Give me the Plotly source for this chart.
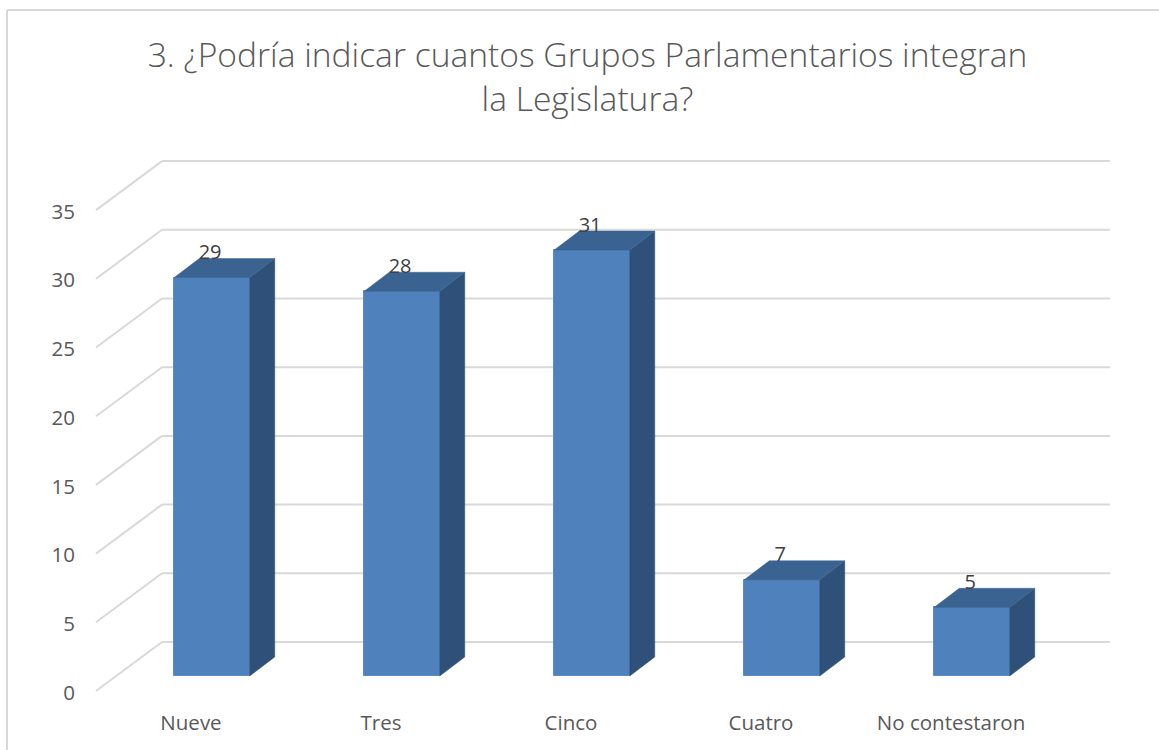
import plotly.graph_objects as go

categories = ["Nueve", "Tres", "Cinco", "Cuatro", "No contestaron"]
values = [29, 28, 31, 7, 5]
y_ticks = [0, 5, 10, 15, 20, 25, 30, 35]
title_text = "3. ¿Podría indicar cuantos Grupos Parlamentarios integran<br>la Legislatura?"

# Page geometry (pixels)
W, H = 1159, 750
ML, MB = 76, 42
PX_X = 190.0      # pixels per category
PX_Y = 13.74      # pixels per value unit
BAR_X0, BAR_Y0 = 212.0, 676.0    # bar axes origin
TICK_X0, TICK_Y0 = 191.0, 692.5  # tick-label axes origin
BAR_W = 75.5 / PX_X
DX, DY = 25 / PX_X, 19 / PX_Y    # bar depth
FONT = "Open Sans"

def xr(x0): return [(ML - x0) / PX_X, (W - x0) / PX_X]
def yr(y0): return [(y0 - (H - MB)) / PX_Y, y0 / PX_Y]

n = list(range(len(categories)))
fig = go.Figure()

# Invisible trace which makes the tick-label axes appear
fig.add_trace(go.Scatter(x=n, y=[0] * len(n), mode="markers", marker=dict(opacity=0),
                         showlegend=False, hoverinfo="skip", xaxis="x", yaxis="y"))

# Front faces
fig.add_trace(go.Bar(x=n, y=values, width=BAR_W, marker=dict(color="#4F81BD", line=dict(color="#5B8BC4", width=1)),
                     showlegend=False, hoverinfo="skip", xaxis="x2", yaxis="y2"))

# Side and top faces
for i, v in zip(n, values):
    l, r = i - BAR_W / 2, i + BAR_W / 2
    fig.add_trace(go.Scatter(x=[r, r + DX, r + DX, r, r], y=[0, DY, v + DY, v, 0], mode="lines",
                             fill="toself", fillcolor="#2F5079", line=dict(color="#2F5079", width=0.5),
                             showlegend=False, hoverinfo="skip", xaxis="x2", yaxis="y2"))
    fig.add_trace(go.Scatter(x=[l, l + DX, r + DX, r, l], y=[v, v + DY, v + DY, v, v], mode="lines",
                             fill="toself", fillcolor="#3B6391", line=dict(color="#3B6391", width=0.5),
                             showlegend=False, hoverinfo="skip", xaxis="x2", yaxis="y2"))

# Data labels
fig.add_trace(go.Scatter(x=[i - 0.01 for i in n], y=[v + 23.5 / PX_Y for v in values], mode="text",
                         text=[str(v) for v in values], textposition="middle center",
                         textfont=dict(family=FONT, size=20, color="#404040"),
                         showlegend=False, hoverinfo="skip", xaxis="x2", yaxis="y2"))

# Gridlines: back wall and floor/side-wall diagonals
GRID = dict(color="#D9D9D9", width=2)
back_x0 = (162 - BAR_X0) / PX_X
back_x1 = (1110 - BAR_X0) / PX_X
diag_x0 = (96 - BAR_X0) / PX_X
back_off = (BAR_Y0 - 642) / PX_Y
diag_off = (BAR_Y0 - 691) / PX_Y
shapes = []
for t in y_ticks:
    shapes.append(dict(type="line", xref="x2", yref="y2", x0=back_x0, x1=back_x1,
                       y0=t + back_off, y1=t + back_off, line=GRID, layer="below"))
    shapes.append(dict(type="line", xref="x2", yref="y2", x0=diag_x0, x1=back_x0,
                       y0=t + diag_off, y1=t + back_off, line=GRID, layer="below"))

# Chart frame (left and top edges)
plot_w, plot_h = W - ML, H - MB
fx = (7 - ML) / plot_w
fy = (H - MB - 10) / plot_h
fr = 1.0
fb = -MB / plot_h
FRAME = dict(color="#D9D9D9", width=2)
shapes.append(dict(type="line", xref="paper", yref="paper", x0=fx, x1=fx, y0=fb, y1=fy, line=FRAME, layer="below"))
shapes.append(dict(type="line", xref="paper", yref="paper", x0=fx, x1=fr, y0=fy, y1=fy, line=FRAME, layer="below"))

tick_font = dict(family=FONT, size=20.5, color="#595959")
fig.update_layout(
    width=W, height=H,
    margin=dict(l=ML, r=0, t=0, b=MB, pad=0),
    paper_bgcolor="white", plot_bgcolor="rgba(0,0,0,0)",
    showlegend=False, bargap=0,
    title=dict(text=title_text, x=587.5 / W, xanchor="center", y=1 - 67 / H, yanchor="middle",
               font=dict(family=FONT, size=33.6, color="#595959", weight=300)),
    shapes=shapes,
    xaxis=dict(range=xr(TICK_X0), tickmode="array", tickvals=n, ticktext=categories,
               showgrid=False, zeroline=False, showline=False, ticks="",
               tickfont=dict(family=FONT, size=20.5, color="#595959")),
    yaxis=dict(range=yr(TICK_Y0), tickmode="array", tickvals=y_ticks,
               showgrid=False, zeroline=False, showline=False, ticks="", tickfont=tick_font),
    xaxis2=dict(range=xr(BAR_X0), overlaying="x", visible=False),
    yaxis2=dict(range=yr(BAR_Y0), overlaying="y", visible=False),
)

fig.write_html("out.html", post_script="document.body.style.margin='0';document.documentElement.style.overflow='hidden';",
               config=dict(displayModeBar=False))
